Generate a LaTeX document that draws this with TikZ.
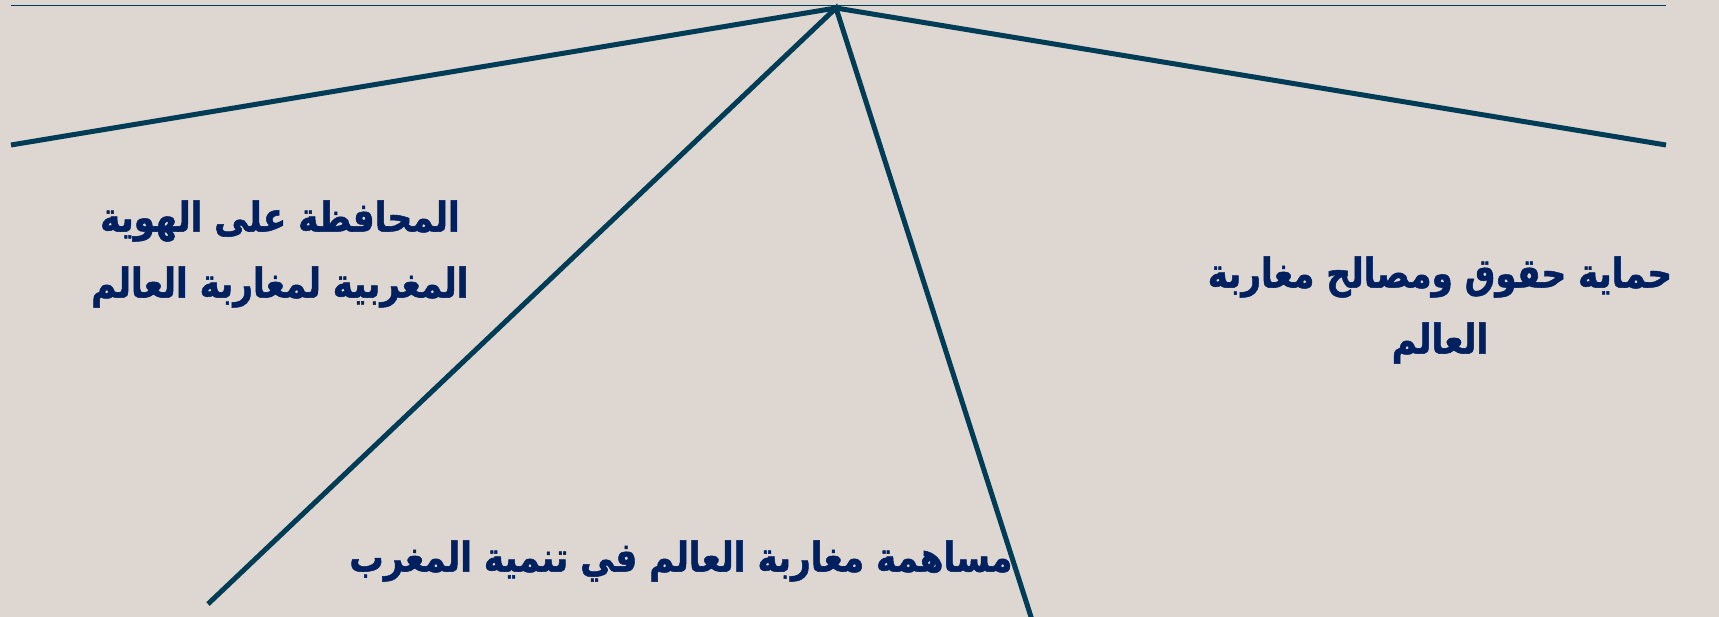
\documentclass[tikz,border=0pt]{standalone}
\usepackage{fontspec}
\newfontfamily\arabicfont[Script=Arabic,FakeStretch=0.835,FakeBold=1.2]{DejaVu Sans}
\TeXXeTstate=1
\definecolor{bg}{HTML}{DED6D0}
\definecolor{ln}{HTML}{003C55}
\definecolor{tx}{HTML}{002060}
\tikzset{
  ray/.style={draw=ln, line width=5pt},
  topline/.style={draw=ln, line width=1.6pt},
  lbl/.style={text=tx, font=\arabicfont\bfseries\fontsize{41}{66}\selectfont, align=center, inner sep=0pt}
}
\begin{document}
\begin{tikzpicture}[x=1pt,y=-1pt]
\fill[bg] (0,0) rectangle (1719,617);
\useasboundingbox (0,0) rectangle (1719,617);
\coordinate (apex) at (836,8);
\coordinate (tl) at (11,5.5);
\coordinate (tr) at (1666,5.5);
\coordinate (l) at (11,145);
\coordinate (r) at (1666,145);
\coordinate (dl) at (208,604);
\coordinate (dr) at (1032,620);
\draw[topline] (tl) -- (tr);
\draw[ray] (l) -- (apex) -- (r);
\draw[ray] (dl) -- (apex) -- (dr);
\node[lbl] (a) at (280,254) {\beginR المحافظة على الهوية\endR\\\beginR المغربية لمغاربة العالم\endR};
\node[lbl] (b) at (1440,310) {\beginR حماية حقوق ومصالح مغاربة\endR\\\beginR العالم\endR};
\node[lbl] (c) at (681,561) {\beginR مساهمة مغاربة العالم في تنمية المغرب\endR};
\end{tikzpicture}
\end{document}
